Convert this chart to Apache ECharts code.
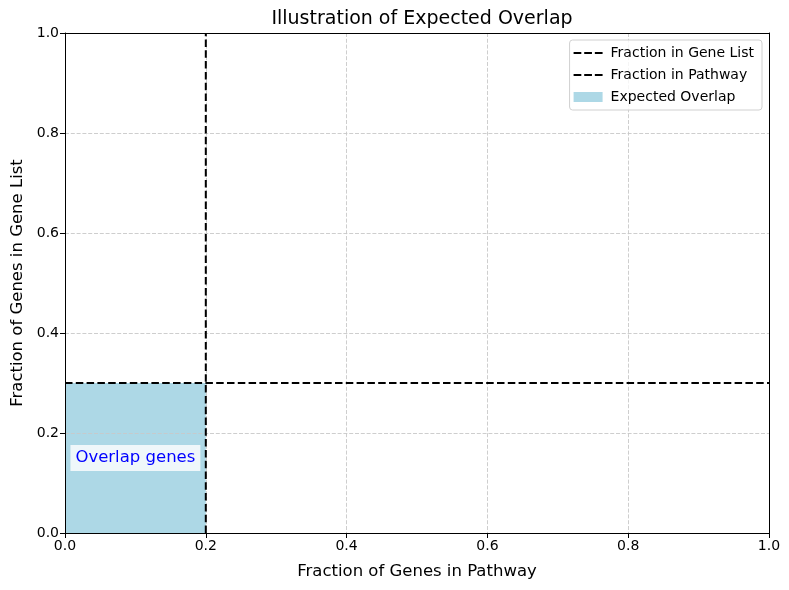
<!DOCTYPE html>
<html><head><meta charset="utf-8">
<script src="https://cdn.jsdelivr.net/npm/echarts@6/dist/echarts.min.js"></script>
<style>html,body{margin:0;padding:0;background:#fff}#c{width:789px;height:590px}</style>
</head><body><div id="c"></div>
<script>
const fracGeneList = 0.3;
const fracPathway = 0.2;
const ticks = [0, 0.2, 0.4, 0.6, 0.8, 1.0];
const seriesNames = ['Fraction in Gene List', 'Fraction in Pathway', 'Expected Overlap'];
const labelText = 'Overlap genes';
const labelPos = [0.1, 0.15];

const font = 'DejaVu Sans';
const dashIcon = 'path://M0,0h8v2h-8z M11,0h8v2h-8z M22,0h8v2h-8z';
const chart = echarts.init(document.getElementById('c'));
const dashLine = {color: '#000', width: 2, type: [7.5, 3.3]};
const axisCommon = {
  type: 'value', min: 0, max: 1, interval: 0.2,
  axisLine: {show: true, onZero: false, lineStyle: {color: '#000', width: 1}},
  axisTick: {show: true, inside: false, length: 5, lineStyle: {color: '#000'}},
  axisLabel: {color: '#000', fontFamily: font, fontSize: 14, margin: 6, formatter: v => v.toFixed(1)},
  splitLine: {show: true, lineStyle: {color: '#c8c8c8', width: 0.9, type: [4, 1.8]}},
  nameLocation: 'middle',
  nameTextStyle: {color: '#000', fontFamily: font, fontSize: 16.5}
};
const frameAxis = (pos) => ({
  type: 'value', min: 0, max: 1, position: pos, z: 10,
  axisLine: {show: true, onZero: false, lineStyle: {color: '#000', width: 1}},
  axisTick: {show: false}, axisLabel: {show: false}, splitLine: {show: false}
});
chart.setOption({
  animation: false,
  title: {text: 'Illustration of Expected Overlap', left: 417, top: 5, textAlign: 'center',
    textStyle: {fontFamily: font, fontSize: 19, fontWeight: 'normal', color: '#000'}},
  grid: {left: 65, right: 20, top: 33, bottom: 57},
  xAxis: [Object.assign({}, axisCommon, {name: 'Fraction of Genes in Pathway', nameGap: 30}), frameAxis('top')],
  yAxis: [Object.assign({}, axisCommon, {name: 'Fraction of Genes in Gene List', nameGap: 38}), frameAxis('right')],
  legend: {
    data: [
      {name: seriesNames[0], icon: dashIcon},
      {name: seriesNames[1], icon: dashIcon},
      {name: seriesNames[2], icon: 'rect'}
    ],
    orient: 'vertical', right: 27, top: 40,
    itemWidth: 29, itemHeight: 10, itemGap: 8,
    padding: [6, 8, 6, 4],
    borderColor: '#d0d0d0', borderWidth: 1, borderRadius: 3,
    backgroundColor: 'rgba(255,255,255,0.8)',
    textStyle: {fontFamily: font, fontSize: 14, color: '#000', lineHeight: 14, padding: [0, 0, 0, 3]}
  },
  series: [
    {name: seriesNames[2], type: 'line', z: -1, symbol: 'none', silent: true,
      data: [[0, fracGeneList], [fracPathway, fracGeneList]],
      lineStyle: {width: 0}, itemStyle: {color: '#add8e6'},
      areaStyle: {color: '#add8e6', opacity: 1, origin: 'start'}},
    {name: seriesNames[0], type: 'line', symbol: 'none', z: 5,
      data: [[0, fracGeneList], [1, fracGeneList]],
      lineStyle: dashLine, itemStyle: {color: '#000'}},
    {name: seriesNames[1], type: 'line', symbol: 'none', z: 5,
      data: [[fracPathway, 0], [fracPathway, 1]],
      lineStyle: dashLine, itemStyle: {color: '#000'}},
    {name: 'label', type: 'scatter', symbolSize: 0, z: 6, silent: true,
      itemStyle: {opacity: 1},
      data: [labelPos],
      label: {show: true, position: 'inside', formatter: labelText,
        color: '#0000ff', fontFamily: font, fontSize: 16.5, opacity: 1,
        backgroundColor: 'rgba(255,255,255,0.8)', padding: [5, 5, 4, 5]}}
  ]
});
</script></body></html>
